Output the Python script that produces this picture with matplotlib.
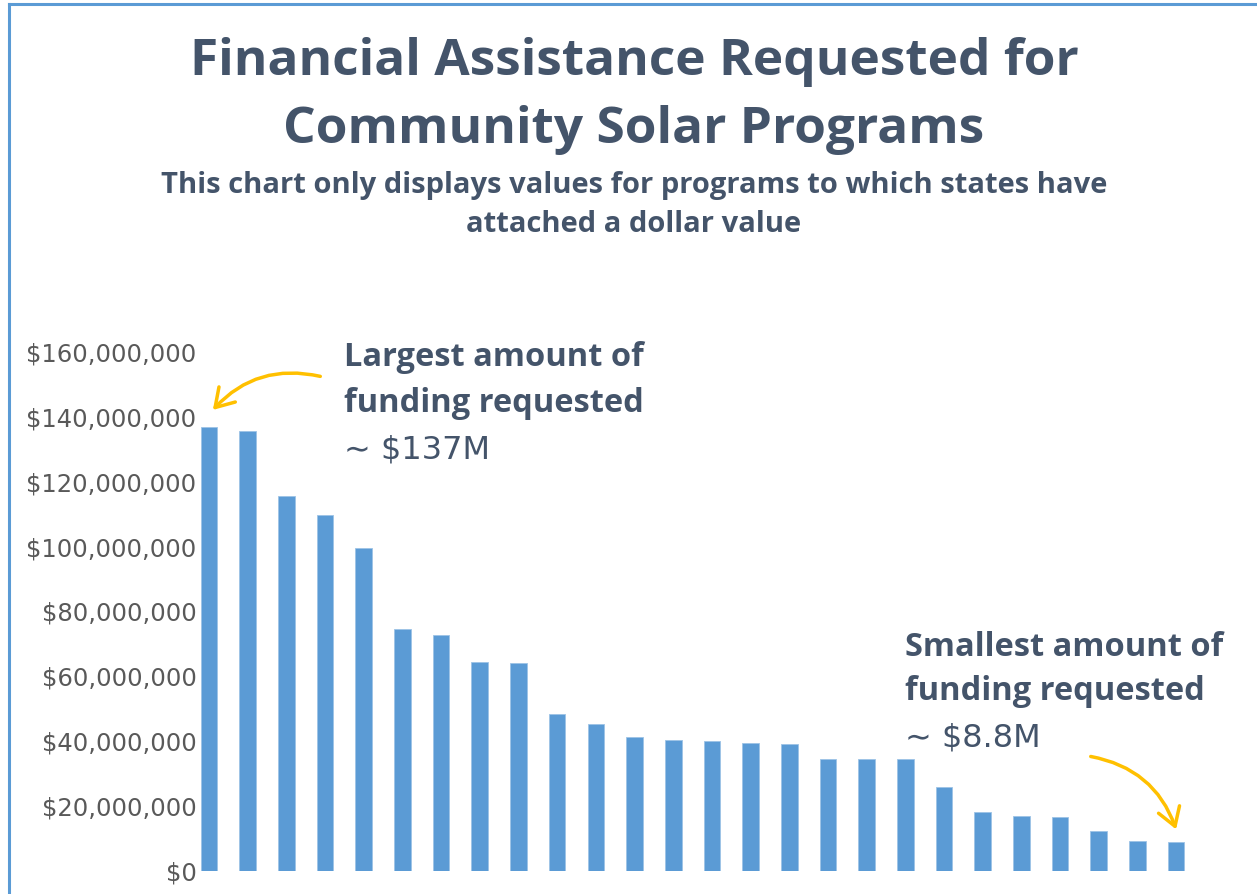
import matplotlib
matplotlib.use("Agg")
import matplotlib.pyplot as plt
from matplotlib.patches import FancyArrowPatch
from matplotlib.lines import Line2D
from matplotlib.ticker import FuncFormatter

# requested amounts, millions of dollars, sorted high to low
amounts = [137, 135.6, 115.5, 109.7, 99.6, 74.6, 72.8, 64.4, 64.0, 48.3,
           45.2, 41.2, 40.5, 40.0, 39.6, 39.3, 34.5, 34.4, 34.4, 25.8,
           18.1, 17.0, 16.5, 12.2, 9.4, 8.8]
yticks = [0, 20, 40, 60, 80, 100, 120, 140, 160]

W, H = 1257, 894
DARK = "#44546A"
BLUE = "#5B9BD5"
GOLD = "#FFC000"
HEAD = "Open Sans"


def fx(px):
    return px / W


def fy(py):
    return 1 - py / H


fig = plt.figure(figsize=(W / 100, H / 100), dpi=100)

# frame lines (top and left)
fig.add_artist(Line2D([fx(9), 1], [fy(4), fy(4)], color=BLUE, lw=2.2))
fig.add_artist(Line2D([fx(9), fx(9)], [0, fy(4)], color=BLUE, lw=2.2))

ax = fig.add_axes([fx(199.3), fy(871), fx(1195.5) - fx(199.3), fy(352) - fy(871)])
x = range(len(amounts))
ax.bar(x, amounts, width=0.43, color=BLUE, edgecolor="#9DC3E6", linewidth=0.6)
ax.set_xlim(-0.25, len(amounts) - 0.5)
ax.set_ylim(0, 160)
ax.set_yticks(yticks)
ax.yaxis.set_major_formatter(FuncFormatter(lambda v, p: "${:,.0f}".format(v * 1e6)))
ax.tick_params(axis="y", length=0, pad=2, labelsize=17.5, labelcolor="#595959")
ax.set_xticks([])
for s in ax.spines.values():
    s.set_visible(False)

# titles
for py, txt in [(62, "Financial Assistance Requested for"), (130, "Community Solar Programs")]:
    fig.text(fx(634), fy(py), txt, ha="center", va="center",
             fontsize=37, fontweight="bold", color=DARK, family=HEAD)
for py, txt in [(186, "This chart only displays values for programs to which states have"),
                (224, "attached a dollar value")]:
    fig.text(fx(634), fy(py), txt, ha="center", va="center",
             fontsize=21, fontweight="bold", color=DARK, family=HEAD)

# annotations
fig.text(fx(344), fy(358), "Largest amount of", ha="left", va="center",
         fontsize=23.5, fontweight="bold", color=DARK, family=HEAD)
fig.text(fx(344), fy(404), "funding requested", ha="left", va="center",
         fontsize=23.5, fontweight="bold", color=DARK, family=HEAD)
fig.text(fx(344), fy(450), "\u223c $137M", ha="left", va="center",
         fontsize=23, color=DARK, family=["DejaVu Sans"])

fig.text(fx(905), fy(648), "Smallest amount of", ha="left", va="center",
         fontsize=23.5, fontweight="bold", color=DARK, family=HEAD)
fig.text(fx(905), fy(692), "funding requested", ha="left", va="center",
         fontsize=23.5, fontweight="bold", color=DARK, family=HEAD)
fig.text(fx(905), fy(738), "\u223c $8.8M", ha="left", va="center",
         fontsize=23, color=DARK, family=["DejaVu Sans"])

# curved arrows
a1 = FancyArrowPatch((fx(323), fy(377)), (fx(211), fy(412)), transform=fig.transFigure,
                     connectionstyle="arc3,rad=0.3", arrowstyle="->,head_length=8,head_width=5",
                     color=GOLD, lw=2.5, mutation_scale=1.6)
a2 = FancyArrowPatch((fx(1088), fy(756)), (fx(1177), fy(832)), transform=fig.transFigure,
                     connectionstyle="arc3,rad=-0.3", arrowstyle="->,head_length=8,head_width=5",
                     color=GOLD, lw=2.5, mutation_scale=1.6)
fig.add_artist(a1)
fig.add_artist(a2)

fig.savefig("out.png", dpi=100)
